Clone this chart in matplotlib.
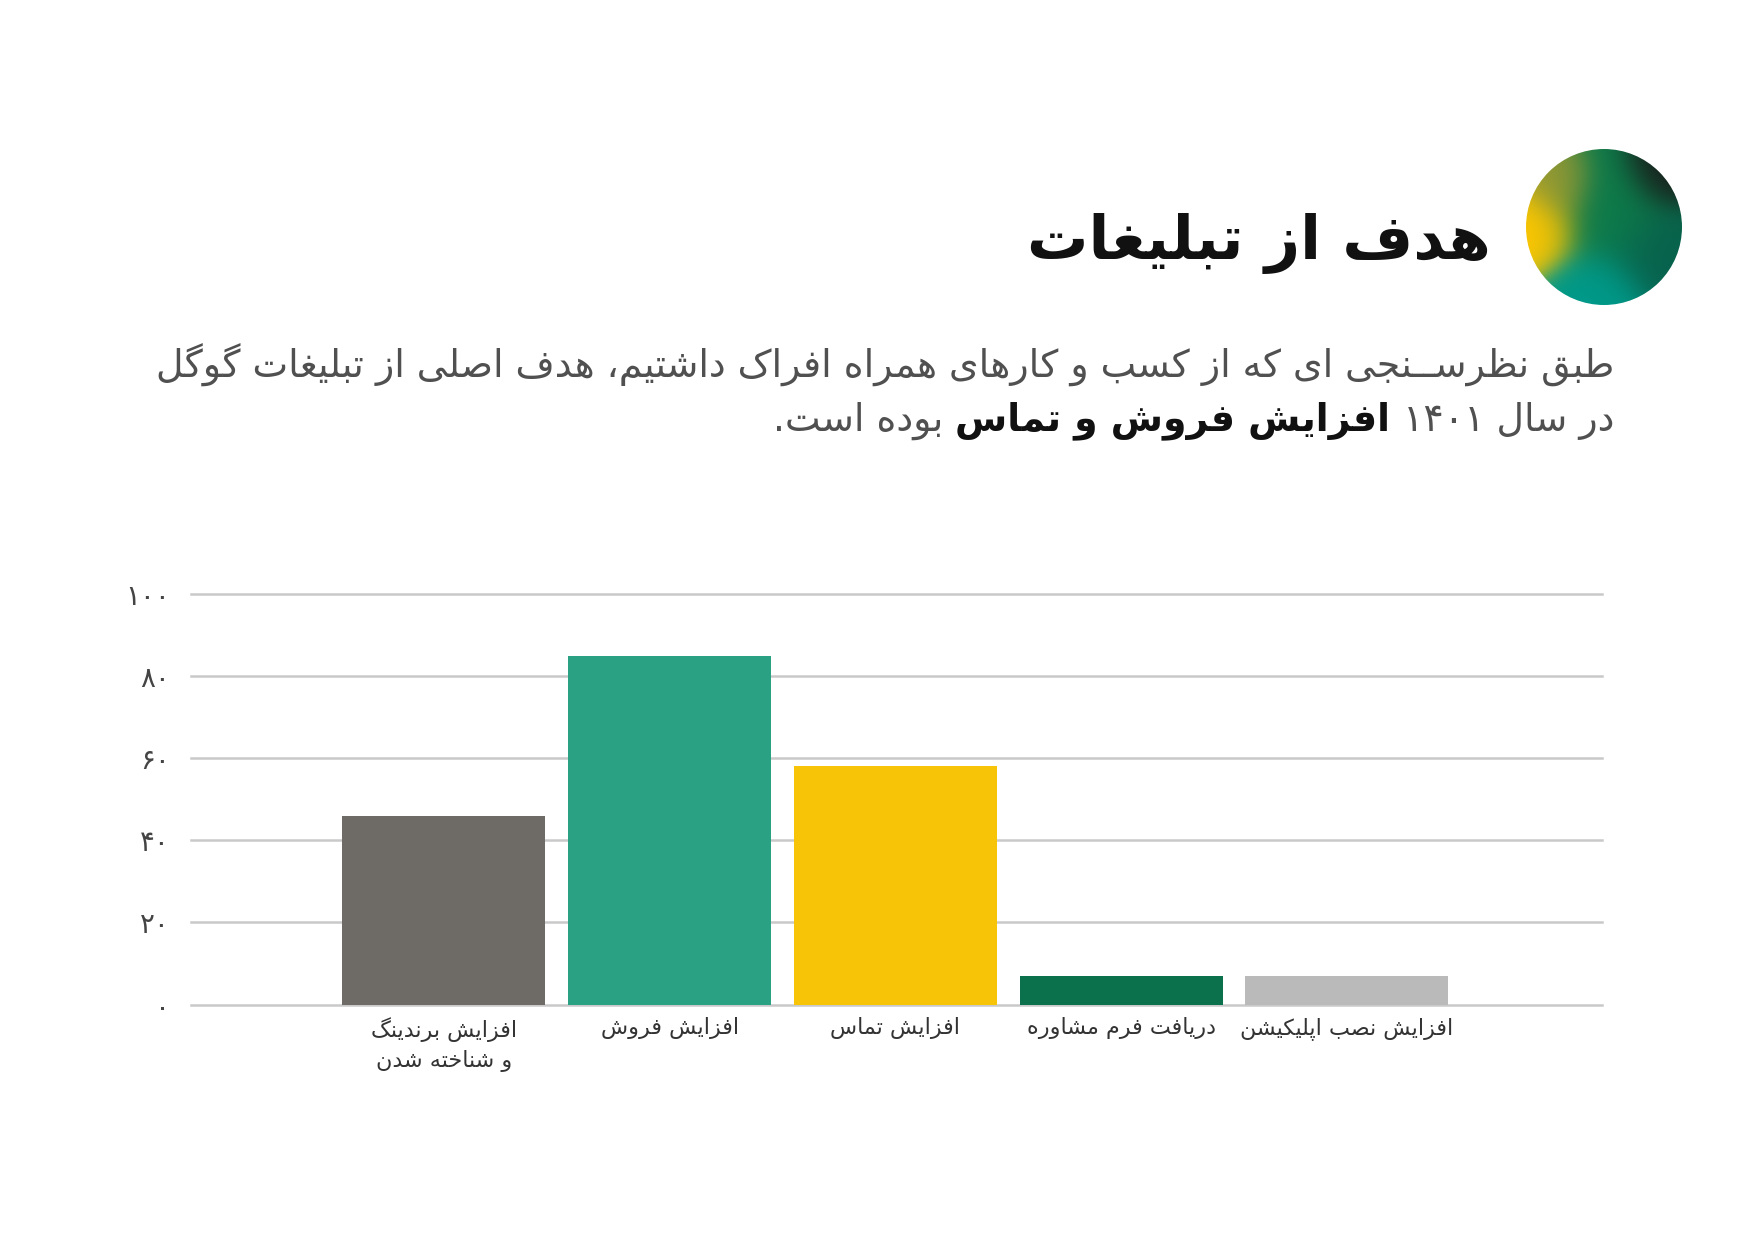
import re
import numpy as np
import matplotlib
matplotlib.use('Agg')
import matplotlib.pyplot as plt
from matplotlib.patches import Circle

# chart data
categories = ['افزایش برندینگ\nو شناخته شدن', 'افزایش فروش', 'افزایش تماس',
              'دریافت فرم مشاوره', 'افزایش نصب اپلیکیشن']
values = [46, 85, 58, 7, 7]
colors = ['#6e6a66', '#2aa183', '#f7c408', '#0b714c', '#bbbaba']
yticks = [0, 20, 40, 60, 80, 100]

title = 'هدف از تبلیغات'
line1 = 'طبق نظرســنجی ای که از کسب و کارهای همراه افراک داشتیم، هدف اصلی از تبلیغات گوگل'
line2_parts = ['در سال ۱۴۰۱', 'افزایش فروش و تماس', 'بوده است.']
line2_bold = [False, True, False]

# --- minimal arabic/persian shaping (matplotlib has no RTL shaping) ---
FORMS = {}
for ch, b in [('ب', 0xFE8F), ('ت', 0xFE95), ('ث', 0xFE99), ('ج', 0xFE9D), ('ح', 0xFEA1),
              ('خ', 0xFEA5), ('س', 0xFEB1), ('ش', 0xFEB5), ('ص', 0xFEB9), ('ض', 0xFEBD),
              ('ط', 0xFEC1), ('ظ', 0xFEC5), ('ع', 0xFEC9), ('غ', 0xFECD), ('ف', 0xFED1),
              ('ق', 0xFED5), ('ل', 0xFEDD), ('م', 0xFEE1), ('ن', 0xFEE5), ('ه', 0xFEE9),
              ('ي', 0xFEF1), ('ئ', 0xFE89), ('ك', 0xFED9),
              ('پ', 0xFB56), ('چ', 0xFB7A), ('ک', 0xFB8E), ('گ', 0xFB92), ('ی', 0xFBFC)]:
    FORMS[ch] = (chr(b), chr(b + 1), chr(b + 2), chr(b + 3))
for ch, b in [('ا', 0xFE8D), ('آ', 0xFE81), ('أ', 0xFE83), ('إ', 0xFE87), ('ؤ', 0xFE85),
              ('د', 0xFEA9), ('ذ', 0xFEAB), ('ر', 0xFEAD), ('ز', 0xFEAF), ('و', 0xFEED),
              ('ة', 0xFE93), ('ژ', 0xFB8A)]:
    FORMS[ch] = (chr(b), chr(b + 1), None, None)
TATWEEL = '\u0640'


def shape(s):
    out = []
    for i, ch in enumerate(s):
        if ch not in FORMS:
            out.append(ch)
            continue
        prev = s[i - 1] if i > 0 else ''
        nxt = s[i + 1] if i + 1 < len(s) else ''
        f = FORMS[ch]
        jp = prev == TATWEEL or (prev in FORMS and FORMS[prev][2] is not None)
        jn = f[2] is not None and (nxt == TATWEEL or nxt in FORMS)
        if jp and jn:
            out.append(f[3])
        elif jp:
            out.append(f[1])
        elif jn:
            out.append(f[2])
        else:
            out.append(f[0])
    vis = ''.join(out)[::-1]
    # digit runs stay left to right
    return re.sub(r'[0-9\u06F0-\u06F9]+', lambda m: m.group()[::-1], vis)


def rtl(s):
    return '\n'.join(shape(l) for l in s.split('\n'))


def fa_num(n):
    return str(n).translate(str.maketrans('0123456789', '۰۱۲۳۴۵۶۷۸۹'))


plt.rcParams['font.family'] = ['DejaVu Sans']

W, H = 1754, 1241
fig = plt.figure(figsize=(W / 100, H / 100), dpi=100)

# title + gradient circle
fig.text(1491 / W, 1 - 244 / H, rtl(title), ha='right', va='center',
         fontsize=44, fontweight='bold', color='#111111')

cx, cy, r = 1604, 227, 78
cax = fig.add_axes([(cx - r) / W, 1 - (cy + r) / H, 2 * r / W, 2 * r / H])
u, v = np.meshgrid(np.linspace(-1, 1, 300), np.linspace(1, -1, 300))
blobs = [((-0.9, 0.0), (1.0, 0.78, 0.0), 0.42),
         ((-0.6, 0.55), (0.6, 0.6, 0.2), 0.35),
         ((0.1, 0.25), (0.05, 0.48, 0.29), 0.6),
         ((0.8, 0.75), (0.1, 0.1, 0.1), 0.4),
         ((-0.1, -0.95), (0.0, 0.6, 0.54), 0.5),
         ((0.75, -0.35), (0.03, 0.38, 0.3), 0.5)]
num = np.zeros(u.shape + (3,))
den = np.zeros(u.shape)
for (bx, by), col, s in blobs:
    w = np.exp(-((u - bx) ** 2 + (v - by) ** 2) / s ** 2)
    num += w[..., None] * np.array(col)
    den += w
img = cax.imshow(num / den[..., None], extent=(-1, 1, -1, 1))
img.set_clip_path(Circle((0, 0), 1, transform=cax.transData))
cax.axis('off')

# description text
fs = 27.3
fig.text(1614 / W, 1 - 365 / H, rtl(line1), ha='right', va='center',
         fontsize=fs, color='#505050')
renderer = fig.canvas.get_renderer()
x = 1614
gap = fs * 0.32 * 100 / 72
for part, bold in zip(line2_parts, line2_bold):
    t = fig.text(x / W, 1 - 421 / H, rtl(part), ha='right', va='center', fontsize=fs,
                 color='#111111' if bold else '#505050',
                 fontweight='bold' if bold else 'normal')
    bb = t.get_window_extent(renderer=renderer)
    x = bb.x0 - gap

# bar chart
ax = fig.add_axes([191 / W, 1 - 1004.5 / H, (1602 - 191) / W, (1004.5 - 594) / H])
pos = np.arange(len(values))
ax.bar(pos, values, width=0.9, color=colors, zorder=2)
ax.set_xlim(-1.12, 5.13)
ax.set_ylim(0, 100)
ax.set_yticks(yticks)
ax.set_yticklabels([fa_num(t) for t in yticks], fontsize=20, color='#444444')
ax.set_xticks(pos)
ax.set_xticklabels([rtl(c) for c in categories], fontsize=16, color='#333333',
                   linespacing=1.45)
ax.tick_params(axis='both', length=0)
ax.tick_params(axis='y', pad=15)
ax.tick_params(axis='x', pad=9)
ax.yaxis.grid(True, color='#c9c9c9', lw=1.8)
for gl in ax.yaxis.get_gridlines():
    gl.set_clip_on(False)
ax.set_axisbelow(True)
for sp in ax.spines.values():
    sp.set_visible(False)

fig.savefig('out.png', dpi=100, facecolor='white')
